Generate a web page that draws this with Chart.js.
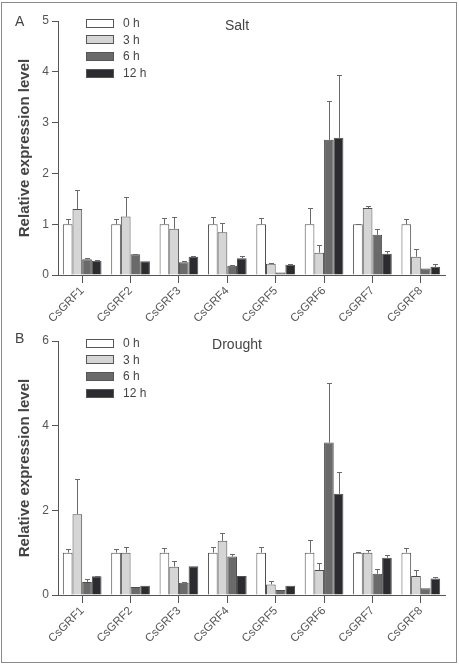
<!DOCTYPE html>
<html>
<head>
<meta charset="utf-8">
<script src="https://cdn.jsdelivr.net/npm/chart.js@4.4.1/dist/chart.umd.min.js"></script>
<style>
  body { margin: 0; background: #fff; font-family: "Liberation Sans", Arial, sans-serif; color: #444; }
  #page { position: relative; width: 459px; height: 667px; overflow: hidden; }
  canvas { position: absolute; left: 0; }
  #frame { position: absolute; left: 1px; top: 2px; width: 456px; height: 661px; box-sizing: border-box; border: 1.5px solid #8a8a8a; pointer-events: none; }
  .panel { position: absolute; font-size: 14px; color: #444; }
  .title { position: absolute; font-size: 14px; color: #444; transform: translateX(-50%); }
  .legend { position: absolute; left: 86px; font-size: 12px; color: #444; }
  .legend div { height: 16.6px; display: flex; align-items: center; }
  .legend span.box { display: inline-block; width: 26px; height: 7px; border: 1px solid #555; margin-right: 9px; }
</style>
</head>
<body>
<div id="page">
  <canvas id="salt" width="459" height="330" style="top:0"></canvas>
  <canvas id="drought" width="459" height="337" style="top:330px"></canvas>
  <div class="panel" style="left:15px; top:13px">A</div>
  <div class="title" style="left:237px; top:17px">Salt</div>
  <div class="legend" id="legendSalt" style="top:15px"></div>
  <div class="panel" style="left:15px; top:330px">B</div>
  <div class="title" style="left:237px; top:336px">Drought</div>
  <div class="legend" id="legendDrought" style="top:335px"></div>
  <div id="frame"></div>
</div>
<script>
// genes and time points
const genes = ['CsGRF1', 'CsGRF2', 'CsGRF3', 'CsGRF4', 'CsGRF5', 'CsGRF6', 'CsGRF7', 'CsGRF8'];
const timePoints = ['0 h', '3 h', '6 h', '12 h'];
const barColors = ['#ffffff', '#d5d5d5', '#6a6a6a', '#2c2c30'];

// salt stress (mean and SD)
const salt0h = [1, 1, 1, 1, 1, 1, 1, 1];
const salt3h = [1.30, 1.15, 0.91, 0.84, 0.22, 0.44, 1.32, 0.36];
const salt6h = [0.31, 0.41, 0.25, 0.18, 0.05, 2.66, 0.79, 0.13];
const salt12h = [0.28, 0.27, 0.36, 0.33, 0.20, 2.70, 0.42, 0.16];
const salt0hSd = [0.10, 0.10, 0.12, 0.15, 0.13, 0.31, 0.01, 0.11];
const salt3hSd = [0.37, 0.39, 0.24, 0.18, 0.02, 0.16, 0.04, 0.16];
const salt6hSd = [0.02, 0.01, 0.03, 0.02, 0, 0.76, 0.11, 0];
const salt12hSd = [0.02, 0, 0.01, 0.04, 0.02, 1.23, 0.06, 0.05];
const saltTicks = [0, 1, 2, 3, 4, 5];

// drought stress (mean and SD)
const drought0h = [1, 1, 1, 1, 1, 1, 1, 1];
const drought3h = [1.91, 1.00, 0.67, 1.28, 0.25, 0.59, 1.00, 0.45];
const drought6h = [0.31, 0.19, 0.29, 0.91, 0.12, 3.60, 0.50, 0.16];
const drought12h = [0.44, 0.22, 0.68, 0.45, 0.22, 2.39, 0.88, 0.39];
const drought0hSd = [0.09, 0.09, 0.12, 0.13, 0.13, 0.30, 0.01, 0.11];
const drought3hSd = [0.82, 0.13, 0.13, 0.19, 0.07, 0.17, 0.06, 0.15];
const drought6hSd = [0.06, 0, 0.02, 0.07, 0, 1.40, 0.11, 0];
const drought12hSd = [0.01, 0, 0, 0, 0, 0.52, 0.07, 0.03];
const droughtTicks = [0, 2, 4, 6];

// draws upper error whiskers with a small cap on every bar
const errorBars = {
	id: 'errorBars',
	afterDatasetsDraw(chart){
		const ctx = chart.ctx;
		const yScale = chart.scales.y;
		ctx.save();
		ctx.strokeStyle = '#6a6a6a';
		ctx.lineWidth = 1;
		chart.data.datasets.forEach((ds, i) => {
			const meta = chart.getDatasetMeta(i);
			meta.data.forEach((bar, j) => {
				const sd = ds.sd[j];
				if(!sd) return;
				const top = Math.round(yScale.getPixelForValue(ds.data[j] + sd)) + 0.5;
				const x = Math.round(bar.x) + 0.5;
				ctx.beginPath();
				ctx.moveTo(x, bar.y);
				ctx.lineTo(x, top);
				ctx.moveTo(x - 2.5, top);
				ctx.lineTo(x + 2.5, top);
				ctx.stroke();
			});
		});
		ctx.restore();
	}
};

function makeLegend(id){
	const el = document.getElementById(id);
	timePoints.forEach((t, i) => {
		const row = document.createElement('div');
		const box = document.createElement('span');
		box.className = 'box';
		box.style.background = barColors[i];
		row.appendChild(box);
		row.appendChild(document.createTextNode(t));
		el.appendChild(row);
	});
}

function makeChart(canvasId, series, sds, ticks, topPad, xHeight){
	const datasets = series.map((values, i) => ({
		label: timePoints[i],
		data: values,
		sd: sds[i],
		backgroundColor: barColors[i],
		borderColor: '#4e4e4e',
		borderWidth: 1,
		categoryPercentage: 0.8,
		barPercentage: 1.0
	}));
	return new Chart(document.getElementById(canvasId), {
		type: 'bar',
		data: { labels: genes, datasets: datasets },
		options: {
			responsive: false,
			animation: false,
			layout: { padding: { top: topPad, right: 14, left: 0, bottom: 0 } },
			plugins: { legend: { display: false }, tooltip: { enabled: false } },
			scales: {
				x: {
					grid: { display: true, drawOnChartArea: false, offset: false, tickLength: 8, color: '#555' },
					border: { display: true, color: '#555', width: 1 },
					ticks: { autoSkip: false, minRotation: 45, maxRotation: 45, color: '#555', padding: 1,
						font: { family: 'Liberation Sans', size: 11.5 } },
					afterFit(scale){ scale.height = xHeight; }
				},
				y: {
					min: ticks[0],
					max: ticks[ticks.length - 1],
					afterBuildTicks(scale){ scale.ticks = ticks.map(v => ({ value: v })); },
					grid: { display: true, drawOnChartArea: false, tickLength: 6, color: '#555' },
					border: { display: true, color: '#555', width: 1 },
					ticks: { color: '#555', padding: 3, font: { family: 'Liberation Sans', size: 12 } },
					title: { display: true, text: 'Relative expression level', color: '#444',
						padding: { top: 16, bottom: 0 },
						font: { family: 'Liberation Sans', size: 15, weight: 'bold' } },
					afterFit(scale){ scale.width = 58; }
				}
			}
		},
		plugins: [errorBars]
	});
}

makeLegend('legendSalt');
makeLegend('legendDrought');
makeChart('salt', [salt0h, salt3h, salt6h, salt12h], [salt0hSd, salt3hSd, salt6hSd, salt12hSd], saltTicks, 21, 55);
makeChart('drought', [drought0h, drought3h, drought6h, drought12h], [drought0hSd, drought3hSd, drought6hSd, drought12hSd], droughtTicks, 11, 72);
</script>
</body>
</html>
